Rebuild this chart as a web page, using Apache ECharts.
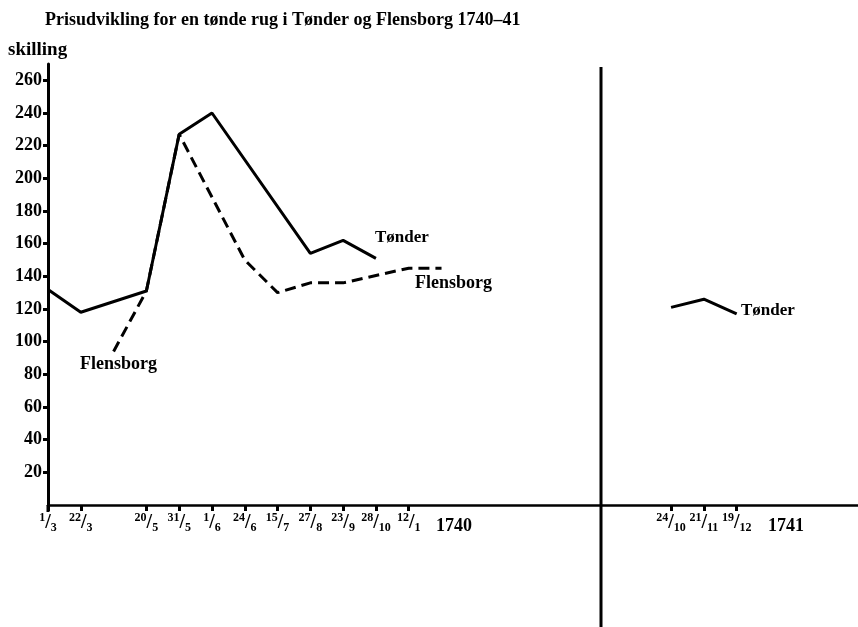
<!DOCTYPE html>
<html><head><meta charset="utf-8">
<script src="https://cdn.jsdelivr.net/npm/echarts@6/dist/echarts.min.js"></script>
<style>html,body{margin:0;padding:0;background:#fff}#c{width:858px;height:627px}</style>
</head><body><div id="c"></div>
<script>
// slot categories along the time axis ('' = unlabeled spacing slot)
const categories = ['1/3','22/3','','20/5','31/5','1/6','24/6','15/7','27/8','23/9','28/10','12/1','','','','','','','','24/10','21/11','19/12','','',''];
const tonder1740 = [132,118,null,131,227,240,null,null,154,162,151,null,null,null,null,null,null,null,null,null,null,null,null,null,null];
const tonder1741 = [null,null,null,null,null,null,null,null,null,null,null,null,null,null,null,null,null,null,null,121,126,117,null,null,null];
const flensborg  = [null,null,94,131,227,null,150,130,136,136,null,145,145,null,null,null,null,null,null,null,null,null,null,null,null];
const yTicks = [20,40,60,80,100,120,140,160,180,200,220,240,260];
const yearLabels = ['1740','1741'];
const title = 'Prisudvikling for en tønde rug i Tønder og Flensborg 1740–41';
const yName = 'skilling';

const FONT = '"Liberation Serif", serif';
const toPts = arr => arr.map((v,i)=> v==null?null:[i,v]).filter(p=>p);
const tickIdx = categories.map((c,i)=> c?i:-1).filter(i=>i>=0);

function fracLabel(v){
  const c = categories[Math.round(v)];
  if(!c) return '';
  const [a,b] = c.split('/');
  return '{n|'+a+'}{s|/}{d|'+b+'}';
}

const chart = echarts.init(document.getElementById('c'), null, {renderer:'canvas'});
const axisCol = '#000';
const baseX = {type:'value', min:0, max:24.7, gridIndex:0, splitLine:{show:false}};
const baseY = {type:'value', min:0, max:270, interval:20, splitLine:{show:false}};
chart.setOption({
  animation:false,
  backgroundColor:'#fff',
  title:{text:title, left:40, top:6, textStyle:{fontFamily:FONT, fontWeight:'bold', fontSize:18, color:'#000'}},
  grid:{left:48, right:0, top:64, bottom:122},
  xAxis:[
    Object.assign({}, baseX, {
      axisLine:{show:true, lineStyle:{color:axisCol, width:2.5}},
      axisTick:{show:true, customValues:tickIdx, length:6, lineStyle:{color:axisCol, width:3}},
      axisLabel:{show:true, customValues:tickIdx, formatter:fracLabel, margin:7, color:'#000',
        rich:{
          n:{fontFamily:FONT, fontWeight:'bold', fontSize:12, verticalAlign:'top', lineHeight:22, color:'#000'},
          s:{fontFamily:FONT, fontWeight:'bold', fontSize:20, lineHeight:22, color:'#000'},
          d:{fontFamily:FONT, fontWeight:'bold', fontSize:12, verticalAlign:'bottom', lineHeight:22, color:'#000'}
        }}
    }),
    Object.assign({}, baseX, {
      axisLine:{show:false}, axisLabel:{show:false},
      axisTick:{show:true, inside:true, customValues:tickIdx, length:6, lineStyle:{color:axisCol, width:3}}
    })
  ],
  yAxis:[
    Object.assign({}, baseY, {
      name:yName, nameLocation:'end', nameGap:4,
      nameTextStyle:{fontFamily:FONT, fontWeight:'bold', fontSize:19, color:'#000', align:'left', padding:[0,0,0,-40]},
      axisLine:{show:true, lineStyle:{color:axisCol, width:3}},
      axisTick:{show:true, customValues:yTicks, length:5, lineStyle:{color:axisCol, width:3}},
      axisLabel:{show:true, customValues:yTicks, margin:6, color:'#000', fontFamily:FONT, fontWeight:'bold', fontSize:18}
    }),
    Object.assign({}, baseY, {
      axisLine:{show:false}, axisLabel:{show:false}, name:'',
      axisTick:{show:true, inside:true, customValues:yTicks, length:5, lineStyle:{color:axisCol, width:3}}
    })
  ],
  series:[
    {name:'Tønder', type:'line', data:toPts(tonder1740), symbol:'none', lineStyle:{color:'#000', width:3}},
    {name:'Tønder', type:'line', data:toPts(tonder1741), symbol:'none', lineStyle:{color:'#000', width:3}},
    {name:'Flensborg', type:'line', data:toPts(flensborg), symbol:'none', lineStyle:{color:'#000', width:3, type:[11,6]}}
  ],
  graphic:[
    {type:'line', shape:{x1:601, y1:67, x2:601, y2:627}, style:{stroke:'#000', lineWidth:3}},
    {type:'line', shape:{x1:48, y1:505, x2:48, y2:512}, style:{stroke:'#000', lineWidth:3}},
    {type:'text', left:436, top:517, style:{text:yearLabels[0], font:'bold 18px '+FONT, fill:'#000'}},
    {type:'text', left:768, top:517, style:{text:yearLabels[1], font:'bold 18px '+FONT, fill:'#000'}},
    {type:'text', left:375, top:229, style:{text:'Tønder', font:'bold 17px '+FONT, fill:'#000'}},
    {type:'text', left:415, top:274, style:{text:'Flensborg', font:'bold 18px '+FONT, fill:'#000'}},
    {type:'text', left:80, top:355, style:{text:'Flensborg', font:'bold 18px '+FONT, fill:'#000'}},
    {type:'text', left:741, top:302, style:{text:'Tønder', font:'bold 17px '+FONT, fill:'#000'}}
  ]
});
</script></body></html>
